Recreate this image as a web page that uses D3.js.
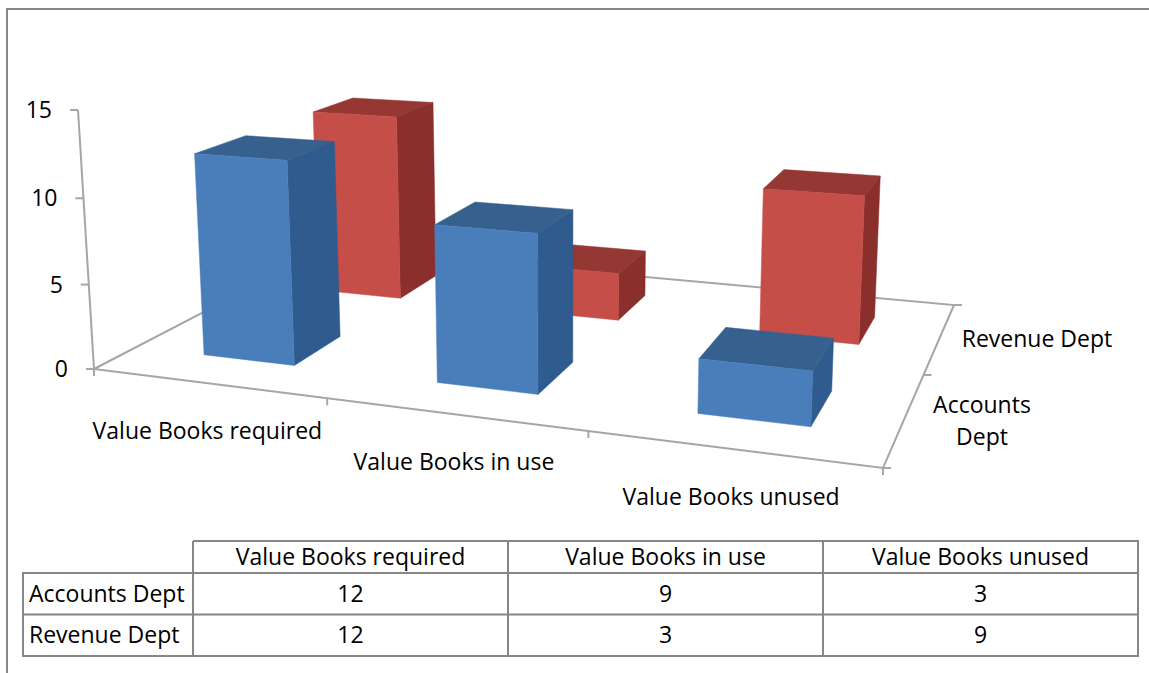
<!DOCTYPE html>
<meta charset="utf-8">
<style>
body { margin: 0; background: #fff; }
svg { display: block; }
text { font-family: "Open Sans", sans-serif; font-size: 23px; fill: #000; }
.axis { stroke: #a6a6a6; stroke-width: 2px; fill: none; }
.grid { stroke: #868686; stroke-width: 2px; fill: none; }
</style>
<svg width="1149" height="673"></svg>
<script src="https://d3js.org/d3.v7.min.js"></script>
<script>

var categories = ["Value Books required", "Value Books in use", "Value Books unused"];
var seriesNames = ["Accounts Dept", "Revenue Dept"];
var accounts = [12, 9, 3];
var revenue = [12, 3, 9];
var seriesValues = [accounts, revenue];
var valueTicks = [0, 5, 10, 15];

var colors = [
  {front: "#4a7ebb", top: "#36618f", side: "#2f5b8f"},
  {front: "#c64e49", top: "#953733", side: "#8a2f2c"}
];

var svg = d3.select("svg");

// floor corners on screen, the 3d box is projected from these
var floor = [[94, 369], [883, 468], [954, 305], [327, 248]];
var vanish = [565, 8000];   // vertical lines meet down here
var axisTopY = 110;

function squareToQuad(q) {
  var dx1 = q[1][0] - q[2][0], dx2 = q[3][0] - q[2][0], dx3 = q[0][0] - q[1][0] + q[2][0] - q[3][0],
      dy1 = q[1][1] - q[2][1], dy2 = q[3][1] - q[2][1], dy3 = q[0][1] - q[1][1] + q[2][1] - q[3][1],
      den = dx1 * dy2 - dx2 * dy1,
      g = (dx3 * dy2 - dx2 * dy3) / den,
      h = (dx1 * dy3 - dx3 * dy1) / den;
  return {
    a: q[1][0] - q[0][0] + g * q[1][0], b: q[3][0] - q[0][0] + h * q[3][0], c: q[0][0],
    d: q[1][1] - q[0][1] + g * q[1][1], e: q[3][1] - q[0][1] + h * q[3][1], f: q[0][1],
    g: g, h: h
  };
}
var H = squareToQuad(floor);

var x = d3.scaleBand().domain(categories).range([0.003, 1.003]).paddingInner(0.6).paddingOuter(0.3);
var z = d3.scaleBand().domain(seriesNames).range([0, 1]).paddingInner(0.6).paddingOuter(0.3);
var y = d3.scaleLinear().domain([0, 15]).range([0, 15]);
var lift = (floor[0][1] - axisTopY) / (y(15) * (axisTopY - vanish[1]));

function project(u, v, t) {
  var k = lift * t,
      w = H.g * u + H.h * v + 1 + k;
  return [(H.a * u + H.b * v + H.c + k * vanish[0]) / w,
          (H.d * u + H.e * v + H.f + k * vanish[1]) / w];
}

var line = d3.line();

svg.append("path").attr("class", "grid")
  .attr("d", "M1149,9H7V673");

// floor and axes
var g = svg.append("g");
g.append("path").attr("class", "axis").attr("d", line([project(0, 0, 0), project(0, 1, 0), project(1, 1, 0), project(1, 0, 0), project(0, 0, 0)]));
g.append("path").attr("class", "axis").attr("d", line([project(0, 0, 0), project(0, 0, y(15))]));

valueTicks.forEach(function(t) {
  var p = project(0, 0, y(t));
  g.append("path").attr("class", "axis").attr("d", "M" + (p[0] - 8) + "," + p[1] + "h8");
  g.append("text").attr("x", p[0] - 26).attr("y", p[1]).attr("dy", "0.35em")
    .attr("text-anchor", "end").text(t);
});
d3.range(categories.length + 1).forEach(function(i) {
  var p = project(i / categories.length, 0, 0);
  g.append("path").attr("class", "axis").attr("d", "M" + p[0] + "," + p[1] + "v7");
});
d3.range(seriesNames.length + 1).forEach(function(j) {
  var p = project(1, j / seriesNames.length, 0);
  g.append("path").attr("class", "axis").attr("d", "M" + p[0] + "," + p[1] + "h8");
});

// bars, back row first
var bars = [];
seriesNames.forEach(function(name, s) {
  categories.forEach(function(cat, i) {
    bars.push({s: s, cat: cat, name: name, value: seriesValues[s][i]});
  });
});
bars.sort(function(p, q) { return q.s - p.s; });

var barG = svg.selectAll(".bar").data(bars).join("g").attr("class", "bar");
barG.each(function(d) {
  var u0 = x(d.cat), u1 = u0 + x.bandwidth(),
      v0 = z(d.name), v1 = v0 + z.bandwidth(),
      t = y(d.value),
      c = colors[d.s],
      el = d3.select(this);
  var face = function(pts, fill) {
    el.append("path").attr("fill", fill).attr("stroke", fill).attr("stroke-width", 0.5)
      .attr("d", line(pts) + "Z");
  };
  face([project(u0, v0, t), project(u1, v0, t), project(u1, v1, t), project(u0, v1, t)], c.top);
  face([project(u1, v0, 0), project(u1, v1, 0), project(u1, v1, t), project(u1, v0, t)], c.side);
  face([project(u0, v0, 0), project(u1, v0, 0), project(u1, v0, t), project(u0, v0, t)], c.front);
});

// category labels under the front edge
categories.forEach(function(cat, i) {
  var p = project((i + 0.5) / categories.length, 0, 0);
  svg.append("text").attr("x", p[0]).attr("y", p[1] + 48).attr("dy", "0.35em")
    .attr("text-anchor", "middle").text(cat);
});

// depth labels
svg.append("text").attr("x", 1037).attr("y", 339).attr("dy", "0.35em")
  .attr("text-anchor", "middle").text(seriesNames[1]);
seriesNames[0].split(" ").forEach(function(word, i) {
  svg.append("text").attr("x", 982).attr("y", 405 + i * 32).attr("dy", "0.35em")
    .attr("text-anchor", "middle").text(word);
});

// data table
var colX = d3.scaleBand().domain(categories).range([193, 1138]);
var rowY = d3.scaleBand().domain(seriesNames).range([573, 656]);
var headY = 541, rowLeft = 23;
var t = svg.append("g");

t.append("path").attr("class", "grid").attr("d",
  "M193," + headY + "H1138V656H" + rowLeft + "V573H1138" +
  "M" + rowLeft + "," + rowY(seriesNames[1]) + "H1138" +
  "M193," + headY + "V656" +
  categories.slice(1).map(function(c) { return "M" + colX(c) + "," + headY + "V656"; }).join(""));

categories.forEach(function(cat, i) {
  var cx = colX(cat) + colX.bandwidth() / 2;
  t.append("text").attr("x", cx).attr("y", (headY + 573) / 2).attr("dy", "0.35em")
    .attr("text-anchor", "middle").text(cat);
  seriesNames.forEach(function(name, s) {
    t.append("text").attr("x", cx).attr("y", rowY(name) + rowY.bandwidth() / 2).attr("dy", "0.35em")
      .attr("text-anchor", "middle").text(seriesValues[s][i]);
  });
});
seriesNames.forEach(function(name) {
  t.append("text").attr("x", rowLeft + 6).attr("y", rowY(name) + rowY.bandwidth() / 2).attr("dy", "0.35em").text(name);
});

</script>
